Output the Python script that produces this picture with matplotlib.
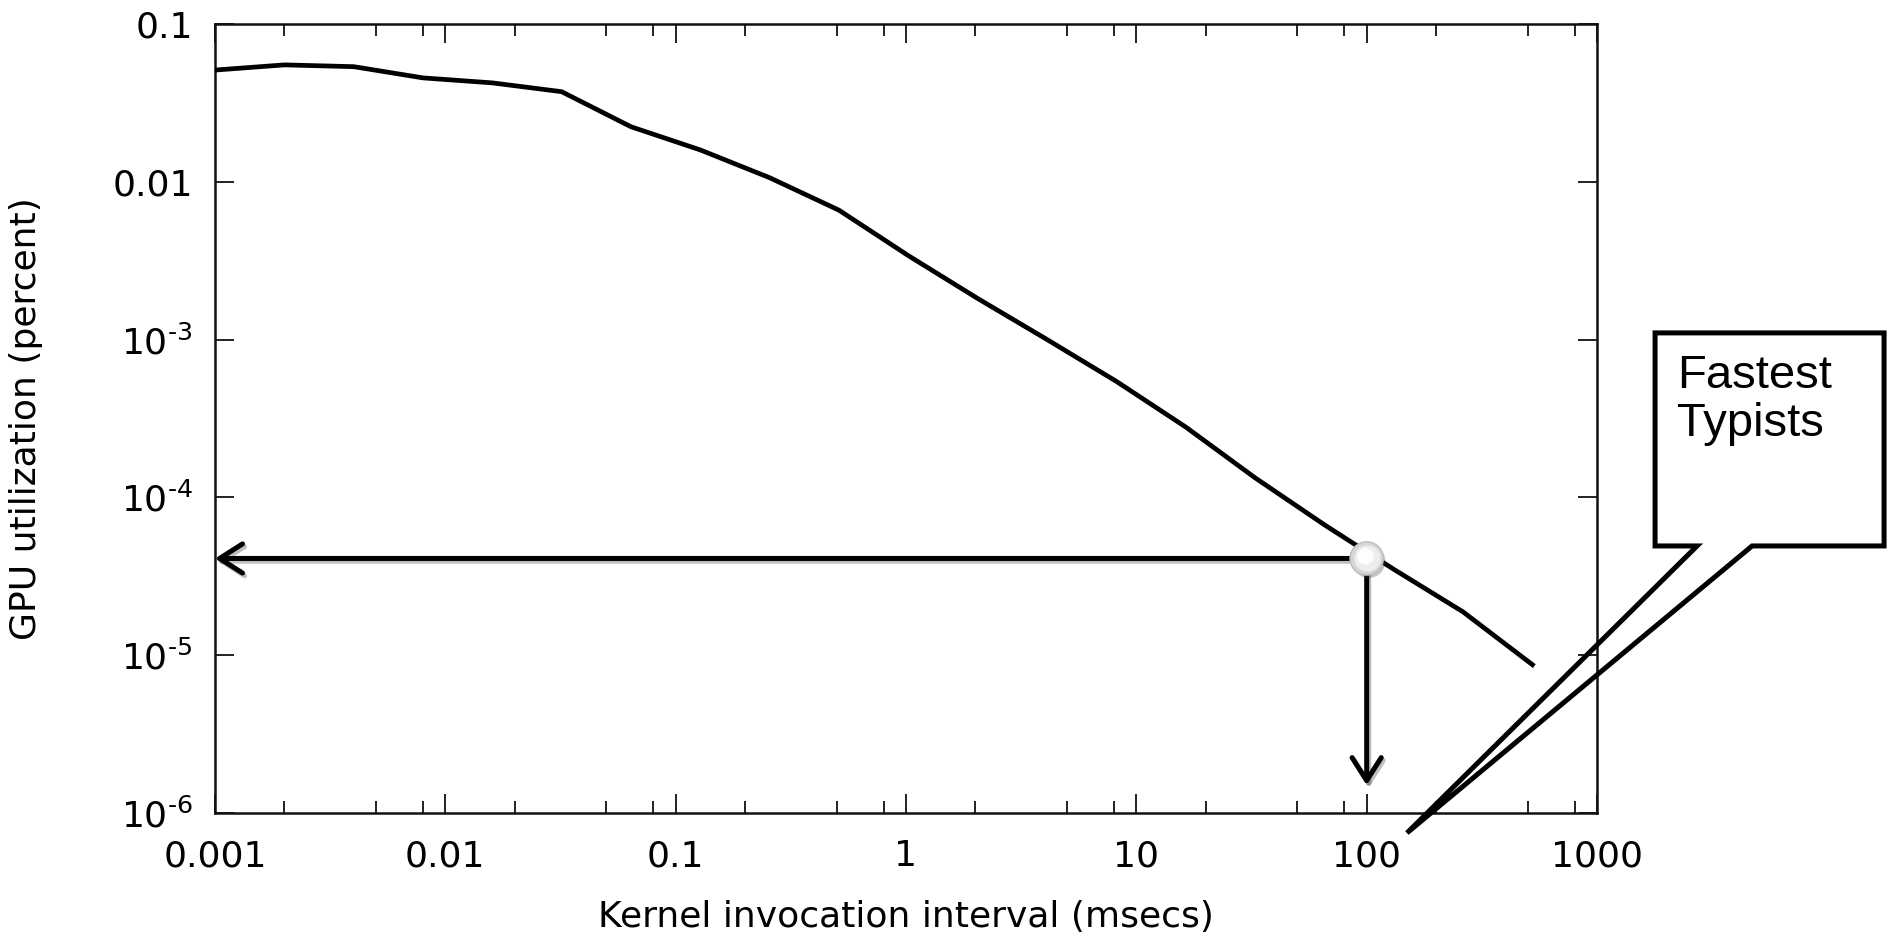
import numpy as np
import matplotlib
matplotlib.use('Agg')
import matplotlib.pyplot as plt
from matplotlib.patches import Polygon
from matplotlib.ticker import FixedLocator, NullFormatter
import matplotlib.patheffects as pe

# Data: GPU utilization vs kernel invocation interval
interval_ms = [0.001, 0.002, 0.004, 0.008, 0.016, 0.032, 0.064, 0.128, 0.256, 0.512,
               1.024, 2.048, 4.096, 8.192, 16.384, 32.768, 65.536, 131.072, 262.144, 524.288]
utilization = [0.051, 0.055, 0.0536, 0.0455, 0.0423, 0.0372, 0.0223, 0.0159, 0.0106, 0.0066,
               0.0034, 0.00182, 0.00100, 0.000543, 0.000279, 0.000133, 6.7e-5, 3.5e-5, 1.88e-5, 8.7e-6]

# Highlighted point (typing speed of fastest typists)
mark_x = 100
mark_y = 4.1e-5
arrow_floor = 1.5e-6

x_ticks = [0.001, 0.01, 0.1, 1, 10, 100, 1000]
x_ticklabels = ['0.001', '0.01', '0.1', '1', '10', '100', '1000']
y_ticks = [1e-6, 1e-5, 1e-4, 1e-3, 0.01, 0.1]
y_ticklabels = ['$\\mathregular{10^{\u2010' + str(e) + '}}$' for e in (6, 5, 4, 3)] + ['0.01', '0.1']
callout_text = 'Fastest\nTypists'

plt.rcParams['font.family'] = ['DejaVu Sans']
plt.rcParams['mathtext.fontset'] = 'dejavusans'

fig = plt.figure(figsize=(18.94, 9.38), dpi=100)
ax = fig.add_axes([0.1135, 0.1333, 0.7297, 0.8412])

ax.plot(interval_ms, utilization, color='black', lw=3.4, solid_joinstyle='miter', zorder=3)

ax.set_xscale('log')
ax.set_yscale('log')
ax.set_xlim(0.001, 1000)
ax.set_ylim(1e-6, 0.1)

ax.xaxis.set_major_locator(FixedLocator(x_ticks))
ax.set_xticklabels(x_ticklabels)
minor = [m * d for d in x_ticks[:-1] for m in (2, 5, 8)]
ax.xaxis.set_minor_locator(FixedLocator(minor))
ax.xaxis.set_minor_formatter(NullFormatter())
ax.yaxis.set_major_locator(FixedLocator(y_ticks))
ax.set_yticklabels(y_ticklabels)
ax.yaxis.set_minor_locator(FixedLocator([]))

ax.tick_params(which='both', direction='in', top=True, right=True, color='#222222', width=1.4)
ax.tick_params(which='major', length=14, labelsize=26)
ax.tick_params(which='minor', length=8.5)
ax.tick_params(axis='x', which='major', pad=19)
ax.tick_params(axis='y', which='major', pad=16)
for s in ax.spines.values():
    s.set_linewidth(1.8)
    s.set_color('#111111')

ax.set_xlabel('Kernel invocation interval (msecs)', fontsize=26)
ax.set_ylabel('GPU utilization (percent)', fontsize=26)
ax.xaxis.set_label_coords(0.5, -0.110)
ax.yaxis.set_label_coords(-0.1245, 0.5)

# arrows from the highlighted point
shadow = [pe.SimpleLineShadow(offset=(1.5, -2), alpha=0.25, shadow_color='black'), pe.Normal()]
for target in [(0.001, mark_y), (mark_x, arrow_floor)]:
    ann = ax.annotate('', xy=target, xytext=(mark_x, mark_y),
                      arrowprops=dict(arrowstyle='->, head_length=0.55, head_width=0.35',
                                      lw=3.6, color='black', mutation_scale=30,
                                      shrinkA=0, shrinkB=0), zorder=4)
    ann.arrow_patch.set_path_effects(shadow)

# shaded marker
ax.plot([mark_x], [mark_y], 'o', ms=24, mfc='#d6d6d6', mec='#bcbcbc', mew=1.0, zorder=5,
        path_effects=[pe.SimplePatchShadow(offset=(1.5, -2), alpha=0.3), pe.Normal()])
ax.plot([mark_x], [mark_y], 'o', ms=19, mfc='#ededed', mec='none', zorder=6)
ax.plot([mark_x * 0.985], [mark_y * 1.03], 'o', ms=12, mfc='#fdfdfd', mec='none', zorder=7)

# callout box outside the axes
L, R, T, B = 1.042, 1.2077, 0.6084, 0.3384
pl, pr = 1.0724, 1.1122
tip = (0.8625, -0.0253)
callout = Polygon([(L, T), (R, T), (R, B), (pr, B), tip, (pl, B), (L, B)], closed=True,
                  fill=False, edgecolor='black', lw=3.6, joinstyle='miter',
                  transform=ax.transAxes, clip_on=False, zorder=8)
ax.add_patch(callout)
ax.text(1.058, 0.582, callout_text, transform=ax.transAxes, ha='left', va='top',
        fontsize=34, family='Liberation Sans', linespacing=1.12, clip_on=False)

fig.savefig('out.png', dpi=100)
